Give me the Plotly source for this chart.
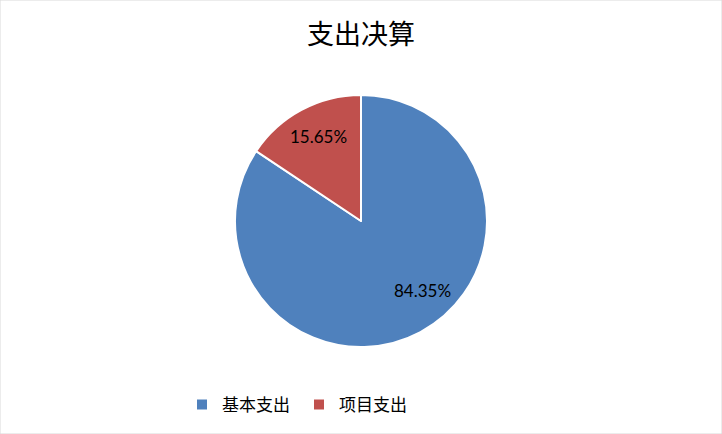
import math
import plotly.graph_objects as go

# data
labels = ["基本支出", "项目支出"]
values = [84.35, 15.65]
colors = ["#4F81BD", "#C0504D"]
title = "支出决算"

W, H = 722, 434
# pie box in pixels
px0, px1, py0, py1 = 235, 487, 95, 347
cx, cy, R = (px0 + px1) / 2, (py0 + py1) / 2, (px1 - px0) / 2
# where each percent label sits: fraction along the slice arc, fraction of radius
label_arc = [0.456, 0.524]
label_rad = [0.742, 0.754]

trace = go.Pie(
    labels=labels,
    values=values,
    sort=False,
    direction="clockwise",
    rotation=0,
    marker=dict(colors=colors, line=dict(color="white", width=2)),
    textinfo="none",
    domain=dict(x=[px0 / W, px1 / W], y=[1 - py1 / H, 1 - py0 / H]),
    hoverinfo="label+percent",
)

# percent labels inside each slice
total = sum(values)
annotations = []
start = 0.0
for v, fa, fr in zip(values, label_arc, label_rad):
    ang = (start + v * fa) / total * 2 * math.pi
    start += v
    r = fr * R
    x = cx + r * math.sin(ang)
    y = cy - r * math.cos(ang)
    annotations.append(dict(
        x=x / W, y=1 - y / H, xref="paper", yref="paper",
        xanchor="center", yanchor="middle",
        text=f"{v / total * 100:.2f}%", showarrow=False,
        font=dict(family="Lato, Carlito, sans-serif", size=17, color="black"),
    ))

fig = go.Figure(data=[trace])
fig.update_layout(
    width=W,
    height=H,
    margin=dict(l=0, r=0, t=0, b=0),
    paper_bgcolor="white",
    plot_bgcolor="white",
    title=dict(
        text=title,
        x=0.5,
        xanchor="center",
        y=1 - 35 / H,
        yanchor="middle",
        font=dict(family="Noto Sans CJK SC", size=27, color="black"),
    ),
    legend=dict(
        orientation="h",
        x=182 / W,
        xanchor="left",
        y=1 - 405 / H,
        yanchor="middle",
        font=dict(family="Noto Sans CJK SC", size=17, color="black"),
        itemwidth=30,
        entrywidth=72,
    ),
    annotations=annotations,
    shapes=[
        dict(type="rect", xref="paper", yref="paper", x0=0, y0=0, x1=1, y1=1,
             line=dict(color="#D9D9D9", width=1))
    ],
)

fig.write_html("out.html", config={"displayModeBar": False},
               post_script="document.body.style.margin='0';")
